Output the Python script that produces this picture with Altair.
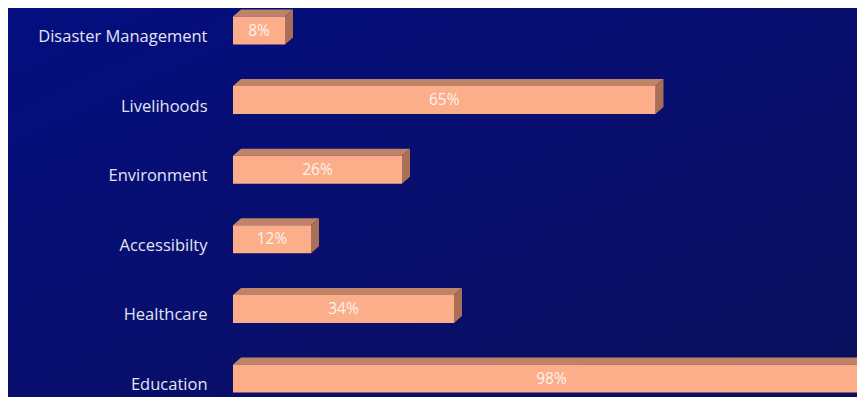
import json
import altair as alt
import pandas as pd

# ---- data ----
categories = ["Disaster Management", "Livelihoods", "Environment",
              "Accessibilty", "Healthcare", "Education"]
values = [8, 65, 26, 12, 34, 98]
value_labels = ["8%", "65%", "26%", "12%", "34%", "98%"]

# ---- layout calibration ----
W, H = 849, 389
ZERO_PX = 225.0      # pixel position of 0 %
PX_PER_PCT = 6.5     # pixels per percent
ROW0_PX = 28.5       # centre of first category row
ROW_STEP = 69.6      # pixels between rows

x_dom = [-ZERO_PX / PX_PER_PCT, (W - ZERO_PX) / PX_PER_PCT]
y_dom = [-ROW0_PX / ROW_STEP, (H - ROW0_PX) / ROW_STEP]

front_top = 20 / ROW_STEP
front_bot = 8 / ROW_STEP
depth_x = 8 / PX_PER_PCT
depth_y = 7 / ROW_STEP

rows = []
top_pts = []
side_pts = []
for i, (c, v, lab) in enumerate(zip(categories, values, value_labels)):
    yt = i - front_top
    yb = i + front_bot
    rows.append(dict(cat=c, idx=i, val=v, lab=lab, yt=yt, yb=yb,
                     xm=v / 2, ym=(yt + yb) / 2, zero=0))
    # top face parallelogram as a vertical area (4 points)
    top_pts.append(dict(idx=i, px=0.0, py=yt, py2=yt))
    top_pts.append(dict(idx=i, px=depth_x, py=yt, py2=yt - depth_y))
    top_pts.append(dict(idx=i, px=float(v), py=yt, py2=yt - depth_y))
    top_pts.append(dict(idx=i, px=v + depth_x, py=yt - depth_y, py2=yt - depth_y))
    # side face parallelogram
    side_pts.append(dict(idx=i, px=float(v), py=yt, py2=yb))
    side_pts.append(dict(idx=i, px=v + depth_x, py=yt - depth_y, py2=yb - depth_y))

df = pd.DataFrame(rows)
df_top = pd.DataFrame(top_pts)
df_side = pd.DataFrame(side_pts)

xs = alt.Scale(domain=x_dom, nice=False, zero=False)
ys = alt.Scale(domain=y_dom, nice=False, zero=False, reverse=True)

label_expr = json.dumps(categories) + "[round(datum.value)]"
y_axis = alt.Axis(
    values=list(range(len(categories))), labelExpr=label_expr,
    ticks=False, domain=False, grid=False, title=None, zindex=2,
    offset=-201, labelPadding=2, labelFont="Open Sans", labelFontSize=16.5,
    labelColor="#E2E5F0", labelAlign="right", labelBaseline="middle")


def Y(field):
    return alt.Y(field, type="quantitative", scale=ys, axis=y_axis)


def X(field):
    return alt.X(field, type="quantitative", scale=xs, axis=None)


bg = alt.Chart(df).mark_rect(
    fill=alt.Gradient(
        gradient="linear", x1=0, y1=0, x2=1, y2=1,
        stops=[alt.GradientStop(offset=0, color="#040E7F"),
               alt.GradientStop(offset=1, color="#0B0F5C")]),
).encode(x=alt.value(0), x2=alt.value("width"), y=alt.value(0), y2=alt.value("height"))

faces = []
for i in range(len(categories)):
    faces.append(
        alt.Chart(df_top).transform_filter(alt.datum.idx == i)
        .mark_area(color="#BF8468", opacity=1, orient="vertical")
        .encode(x=X("px"), y=Y("py"), y2=alt.Y2("py2"))
    )
    faces.append(
        alt.Chart(df_side).transform_filter(alt.datum.idx == i)
        .mark_area(color="#A96F57", opacity=1, orient="vertical")
        .encode(x=X("px"), y=Y("py"), y2=alt.Y2("py2"))
    )

front = alt.Chart(df).mark_rect(color="#FCAD8A", clip=True).encode(
    x=X("zero"), x2="val:Q", y=Y("yt"), y2="yb:Q",
)

text = alt.Chart(df).mark_text(font="Open Sans", fontSize=15.5, color="#FFF3EC",
                               baseline="middle", align="center", clip=True).encode(
    x=X("xm"), y=Y("ym"), text="lab:N",
)

chart = alt.layer(bg, *faces, front, text).properties(
    width=W, height=H, padding=0, autosize=alt.AutoSizeParams(type="none"),
    background="#060E72",
).configure_view(stroke=None)

chart.save("out.html", embed_options={"renderer": "svg", "actions": False})
